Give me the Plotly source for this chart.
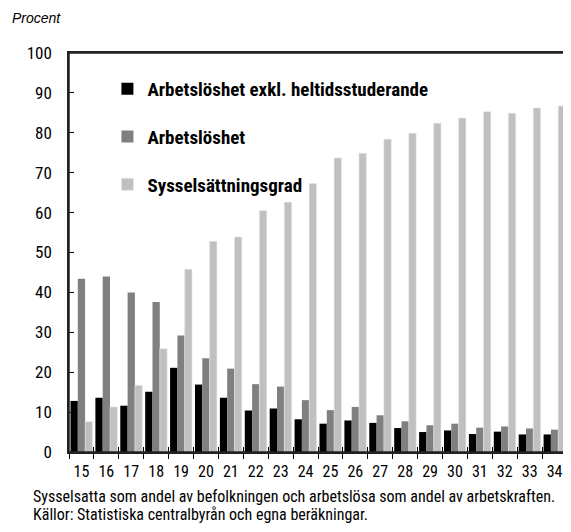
import plotly.graph_objects as go

ages = [str(a) for a in range(15, 35)]
arbetsloshet_exkl = [12.8, 13.6, 11.6, 15.1, 21.1, 16.9, 13.6, 10.4, 10.9, 8.2,
                     7.1, 7.9, 7.3, 6.0, 5.0, 5.4, 4.5, 5.1, 4.4, 4.4]
arbetsloshet = [43.4, 44.0, 40.0, 37.6, 29.2, 23.5, 20.9, 17.0, 16.4, 13.0,
                10.5, 11.3, 9.2, 7.7, 6.7, 7.1, 6.1, 6.4, 5.9, 5.6]
sysselsattning = [7.6, 11.3, 16.7, 25.9, 45.8, 52.8, 53.9, 60.5, 62.6, 67.3,
                  73.7, 74.9, 78.4, 79.9, 82.4, 83.7, 85.3, 84.9, 86.2, 86.7]
y_ticks = list(range(0, 101, 10))

NARROW = "Roboto Condensed, DejaVu Sans Condensed, sans-serif"

# page has an 8px body margin; figure is sized to fill the remaining window
OFF = 8
W, H = 571 - OFF, 532 - OFF
L, Rr, T, Bb = 68.5 - OFF, 567.5 - OFF, 53 - OFF, 452 - OFF   # plot box in figure pixels
pw = Rr - L
ph = Bb - T


def px_x(p):
    return (p - OFF - L) / pw


def px_y(p):
    return (Bb - (p - OFF)) / ph


fig = go.Figure()
fig.add_trace(go.Bar(x=ages, y=arbetsloshet_exkl, name="Arbetslöshet exkl. heltidsstuderande",
                     marker=dict(color="#000000", line=dict(width=0)), legendgroup="a"))
fig.add_trace(go.Bar(x=ages, y=arbetsloshet, name="Arbetslöshet",
                     marker=dict(color="#808080", line=dict(width=0)), legendgroup="b"))
fig.add_trace(go.Bar(x=ages, y=sysselsattning, name="Sysselsättningsgrad",
                     marker=dict(color="#c0c0c0", line=dict(width=0.6, color="#e6e6e6")), legendgroup="c"))

n = len(ages)

fig.update_layout(
    width=W, height=H,
    margin=dict(l=L, r=W - Rr, t=T, b=H - Bb, pad=0),
    paper_bgcolor="white", plot_bgcolor="white",
    barmode="group", bargap=0.12, bargroupgap=0,
    font=dict(family=NARROW, size=16, color="black"),
    legend=dict(x=px_x(107), y=px_y(70), xanchor="left", yanchor="top",
                bgcolor="rgba(0,0,0,0)", traceorder="grouped", tracegroupgap=20,
                font=dict(family=NARROW, size=19, color="black", weight="bold")),
    xaxis=dict(type="category", categoryorder="array", categoryarray=ages,
               tickson="boundaries", ticks="outside", ticklen=5, tickwidth=1, tickcolor="black",
               showline=True, linecolor="#222222", linewidth=1.5, mirror=True, tickangle=0,
               showgrid=False, zeroline=False, ticklabelstandoff=4,
               tickfont=dict(family=NARROW, size=16, color="black")),
    xaxis2=dict(overlaying="x", anchor="y", side="bottom", range=[-0.5, n - 0.5],
                tickvals=[i - 0.5 for i in range(n + 1)], ticks="inside", ticklen=5,
                tickwidth=1, tickcolor="black", showticklabels=False, showgrid=False,
                zeroline=False, showline=False),
    yaxis=dict(range=[0, 100], tickvals=y_ticks, ticks="inside", ticklen=5, tickwidth=1,
               tickcolor="black", showline=True, linecolor="#222222", linewidth=1.5, mirror=True,
               showgrid=False, zeroline=False, ticklabelstandoff=12,
               tickfont=dict(family=NARROW, size=17, color="black")),
    shapes=[dict(type="rect", xref="paper", yref="paper", x0=0, x1=1, y0=0, y1=1,
                 line=dict(color="#222222", width=1.5), fillcolor="rgba(0,0,0,0)", layer="above")],
    annotations=[
        dict(text="Procent", xref="paper", yref="paper", x=px_x(9), y=px_y(18),
             xanchor="left", yanchor="middle", showarrow=False,
             font=dict(family="Liberation Sans, Arial, sans-serif", size=14, color="black", style="italic")),
        dict(text="Sysselsatta som andel av befolkningen och arbetslösa som andel av arbetskraften.",
             xref="paper", yref="paper", x=px_x(30), y=px_y(496), xanchor="left", yanchor="middle",
             showarrow=False, font=dict(family=NARROW, size=16, color="black")),
        dict(text="Källor: Statistiska centralbyrån och egna beräkningar.",
             xref="paper", yref="paper", x=px_x(30), y=px_y(514), xanchor="left", yanchor="middle",
             showarrow=False, font=dict(family=NARROW, size=16, color="black")),
    ],
)
# invisible trace that activates the overlay axis carrying the inner boundary ticks
fig.add_trace(go.Scatter(x=[0], y=[0], xaxis="x2", yaxis="y", mode="markers",
                         marker=dict(opacity=0), showlegend=False, hoverinfo="skip"))

fig.write_html("out.html")
